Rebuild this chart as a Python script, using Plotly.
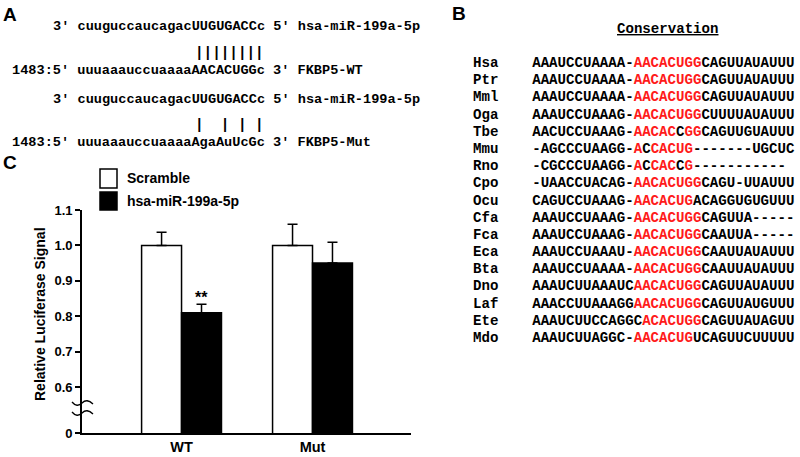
import plotly.graph_objects as go

W, H = 800, 457

# ---- panel C data ----
GROUPS = ["WT", "Mut"]
SCRAMBLE = [1.0, 1.0]
SCRAMBLE_ERR = [0.037, 0.06]
MIR = [0.81, 0.95]
MIR_ERR = [0.024, 0.059]
Y_TICKS = [0.47, 0.6, 0.7, 0.8, 0.9, 1.0, 1.1]
Y_TICKTEXT = ["0", "0.6", "0.7", "0.8", "0.9", "1.0", "1.1"]

# ---- panel A data ----
MIR_SEQ = "3' cuuguccaucagacUUGUGACCc 5' hsa-miR-199a-5p"
WT_SEQ = "1483:5' uuuaaauccuaaaaAACACUGGc 3' FKBP5-WT"
MUT_SEQ = "1483:5' uuuaaauccuaaaaAgaAuUcGc 3' FKBP5-Mut"
WT_PAIRS = "||||||||"
MUT_PAIRS = "|  | | |"

# ---- panel B data (red seed in brackets) ----
SPECIES = ["Hsa", "Ptr", "Mml", "Oga", "Tbe", "Mmu", "Rno", "Cpo", "Ocu",
           "Cfa", "Fca", "Eca", "Bta", "Dno", "Laf", "Ete", "Mdo"]
SEQS = [
    "AAAUCCUAAAA-[AACACUGG]CAGUUAUAUUU",
    "AAAUCCUAAAA-[AACACUGG]CAGUUAUAUUU",
    "AAAUCCUAAAA-[AACACUGG]CAGUUAUAUUU",
    "AAAUCCUAAAG-[AACACUGG]CUUUUAUAUUU",
    "AACUCCUAAAG-[AACAC]C[GG]CAGUUGUAUUU",
    "-AGCCCUAAGG-[A]C[CACUG]-------UGCUC",
    "-CGCCCUAAGG-[A]C[CAC]C[G]-----------",
    "-UAACCUACAG-[AACACUGG]CAGU-UUAUUU",
    "CAGUCCUAAAG-[AACACUG]ACAGGUGUGUUU",
    "AAAUCCUAAAG-[AACACUGG]CAGUUA-----",
    "AAAUCCUAAAG-[AACACUGG]CAAUUA-----",
    "AAAUCCUAAAU-[AACACUGG]CAAUUAUAUUU",
    "AAAUCCUAAAA-[AACACUGG]CAAUUAUAUUU",
    "AAAUCUUAAAUC[AACACUGG]CAGUUAUAUUU",
    "AAACCUUAAAGG[AACACUGG]CAGUUAUGUUU",
    "AAAUCUUCCAGGC[ACACUGG]CAGUUAUAGUU",
    "AAAUCUUAGGC-[AACACUG]UCAGUUCUUUUU",
]

RED = "#ff1a1a"
MONO = "Liberation Mono"
SANS = "Liberation Sans"
NB = "\u00a0"


def px(x):
    return x / W


def py(y):
    return 1 - y / H


def colour_seq(s):
    return s.replace("[", f'<span style="color:{RED}">').replace("]", "</span>")


annotations = []


def label(text, x, y, size, family=SANS, xanchor="left", **kw):
    annotations.append(dict(text=text, x=px(x), y=py(y), xref="paper", yref="paper",
                            xanchor=xanchor, yanchor="middle", showarrow=False,
                            borderpad=0, borderwidth=0,
                            font=dict(family=family, size=size, color="black", weight="bold"),
                            **kw))


# panel letters
label("A", 3, 15, 19)
label("B", 452, 14, 19)
label("C", 3, 163, 19)

# panel A
label(MIR_SEQ.replace(" ", NB), 53, 26, 13.6, MONO)
label(WT_PAIRS, 195, 53, 14.3, MONO)
label(WT_SEQ.replace(" ", NB), 12, 70, 13.6, MONO)
label(MIR_SEQ.replace(" ", NB), 53, 99, 13.6, MONO)
label(MUT_PAIRS.replace(" ", NB), 195, 125, 14.3, MONO)
label(MUT_SEQ.replace(" ", NB), 12, 143, 13.6, MONO)

# panel B
label("<u>Conservation</u>", 668, 29, 14.1, MONO, xanchor="center")
for i, (sp, s) in enumerate(zip(SPECIES, SEQS)):
    label(sp + NB * 4 + colour_seq(s), 473, 63 + 17.19 * i, 14.1, MONO)

# panel C legend + axis title
label("Scramble", 127, 178, 14)
label("hsa-miR-199a-5p", 127, 201, 14)
label("Relative Luciferase Signal", 40, 314, 14, xanchor="center", textangle=-90)

fig = go.Figure()
fig.add_trace(go.Bar(
    name="Scramble", x=GROUPS, y=SCRAMBLE,
    marker=dict(color="white", line=dict(color="black", width=1.5)),
    error_y=dict(type="data", symmetric=False, array=SCRAMBLE_ERR, arrayminus=[0, 0],
                 color="black", thickness=1.5, width=5),
))
fig.add_trace(go.Bar(
    name="hsa-miR-199a-5p", x=GROUPS, y=MIR,
    marker=dict(color="black", line=dict(color="black", width=1.5)),
    error_y=dict(type="data", symmetric=False, array=MIR_ERR, arrayminus=[0, 0],
                 color="black", thickness=1.5, width=5),
))

# significance stars
annotations.append(dict(text="**", x=0.153, xref="x", y=MIR[0] + MIR_ERR[0], yref="y",
                        yanchor="bottom", showarrow=False, yshift=-4,
                        font=dict(family=SANS, size=16, color="black", weight="bold")))

shapes = [
    dict(type="rect", xref="paper", yref="paper", x0=px(100), x1=px(117), y0=py(169), y1=py(188),
         fillcolor="white", line=dict(color="black", width=1.5)),
    dict(type="rect", xref="paper", yref="paper", x0=px(100), x1=px(117), y0=py(192), y1=py(210),
         fillcolor="black", line=dict(color="black", width=1.5)),
]
# axis break squiggles (smile then arch, crossing the y axis)
for yb in (403, 413):
    path = (f"M {px(72)},{py(yb - 1)} Q {px(77)},{py(yb + 5)} {px(82)},{py(yb)} "
            f"T {px(93)},{py(yb + 1)}")
    shapes.append(dict(type="path", xref="paper", yref="paper", path=path,
                       line=dict(color="black", width=1.3)))

fig.update_layout(
    width=W, height=H, margin=dict(l=0, r=0, t=0, b=0, autoexpand=False),
    paper_bgcolor="white", plot_bgcolor="white",
    barmode="group", bargap=0.39, bargroupgap=0,
    showlegend=False,
    annotations=annotations, shapes=shapes,
    xaxis=dict(domain=[px(82), px(411)], type="category", range=[-0.76, 1.752],
               showline=True, linecolor="black", linewidth=1.6, ticks="",
               showgrid=False, zeroline=False, automargin=False,
               tickfont=dict(family=SANS, size=14.5, color="black", weight="bold")),
    yaxis=dict(domain=[py(433), py(210)], range=[Y_TICKS[0], 1.1],
               tickvals=Y_TICKS, ticktext=Y_TICKTEXT,
               showline=True, linecolor="black", linewidth=1.6,
               ticks="outside", ticklen=5, tickwidth=1.5, tickcolor="black",
               showgrid=False, zeroline=False, automargin=False,
               tickfont=dict(family=SANS, size=13, color="black", weight="bold")),
)

fig.write_html("out.html", config={"displayModeBar": False},
               post_script="document.body.style.margin='0';")
